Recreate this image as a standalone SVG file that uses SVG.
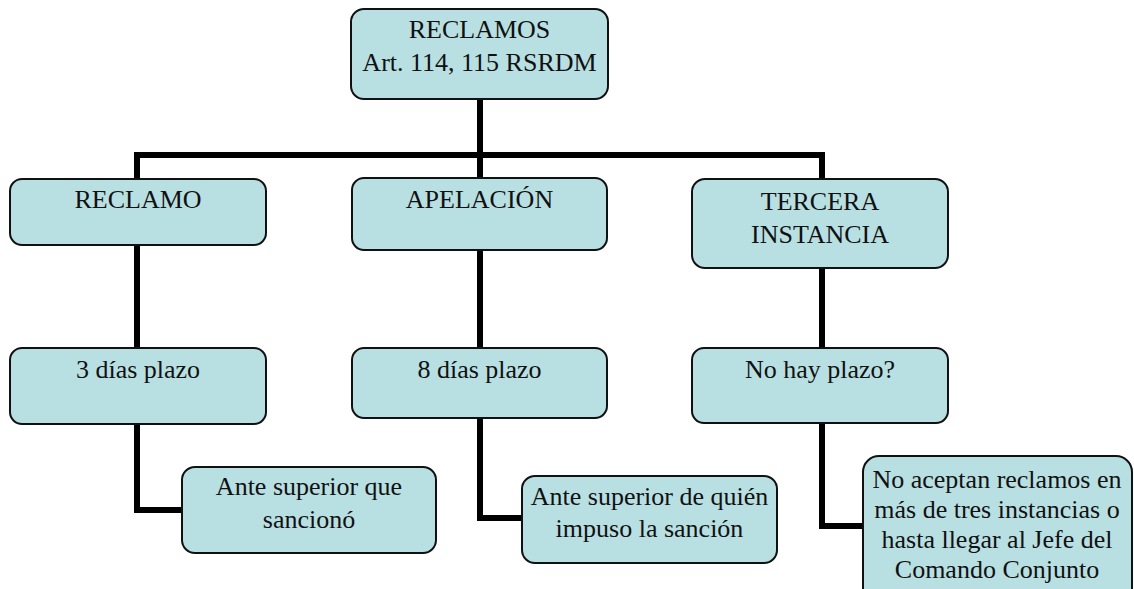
<svg xmlns="http://www.w3.org/2000/svg" width="1134" height="589" viewBox="0 0 1134 589">
<style>
.box{fill:#b8e0e3;stroke:#111;stroke-width:2}
.t{font-family:"Liberation Serif","Times New Roman",serif;font-size:26px;fill:#111;text-anchor:middle}
.c{fill:none;stroke:#000;stroke-width:6;stroke-linejoin:miter}
</style>
<rect width="1134" height="589" fill="#fff"/>
<g id="connectors">
<path class="c" d="M480 99V155"/>
<path class="c" d="M137 179V155H822V179"/>
<path class="c" d="M480 155V178"/>
<path class="c" d="M137 245V348"/>
<path class="c" d="M480 250V348"/>
<path class="c" d="M822 268V349"/>
<path class="c" d="M137 424V510H182"/>
<path class="c" d="M480 418V518H522"/>
<path class="c" d="M822 423V526H863"/>
</g>
<g id="root">
<rect class="box" x="351" y="9" width="257" height="90" rx="13"/>
<text class="t" x="479.5" y="38">RECLAMOS</text>
<text class="t" x="479.5" y="71">Art. 114, 115 RSRDM</text>
</g>
<g id="reclamo">
<rect class="box" x="10" y="179" width="256" height="66" rx="12"/>
<text class="t" x="138" y="208">RECLAMO</text>
</g>
<g id="apelacion">
<rect class="box" x="352" y="178" width="255" height="72" rx="12"/>
<text class="t" x="479.5" y="208">APELACIÓN</text>
</g>
<g id="tercera">
<rect class="box" x="692" y="179" width="256" height="89" rx="13"/>
<text class="t" x="820" y="210">TERCERA</text>
<text class="t" x="820" y="243">INSTANCIA</text>
</g>
<g id="plazo3">
<rect class="box" x="10" y="348" width="256" height="76" rx="12"/>
<text class="t" x="138" y="378">3 días plazo</text>
</g>
<g id="plazo8">
<rect class="box" x="352" y="348" width="255" height="70" rx="12"/>
<text class="t" x="479.5" y="378">8 días plazo</text>
</g>
<g id="noplazo">
<rect class="box" x="692" y="348" width="256" height="75" rx="12"/>
<text class="t" x="820" y="378">No hay plazo?</text>
</g>
<g id="ante1">
<rect class="box" x="182" y="467" width="254" height="86" rx="13"/>
<text class="t" x="309" y="495">Ante superior que</text>
<text class="t" x="309" y="528">sancionó</text>
</g>
<g id="ante2">
<rect class="box" x="522" y="476" width="255" height="87" rx="13"/>
<text class="t" x="649.5" y="505">Ante superior de quién</text>
<text class="t" x="649.5" y="537">impuso la sanción</text>
</g>
<g id="noaceptan">
<rect class="box" x="863" y="456" width="269" height="150" rx="16"/>
<text class="t" x="997" y="488">No aceptan reclamos en</text>
<text class="t" x="997" y="518">más de tres instancias o</text>
<text class="t" x="997" y="548">hasta llegar al Jefe del</text>
<text class="t" x="997" y="578">Comando Conjunto</text>
</g>
</svg>
